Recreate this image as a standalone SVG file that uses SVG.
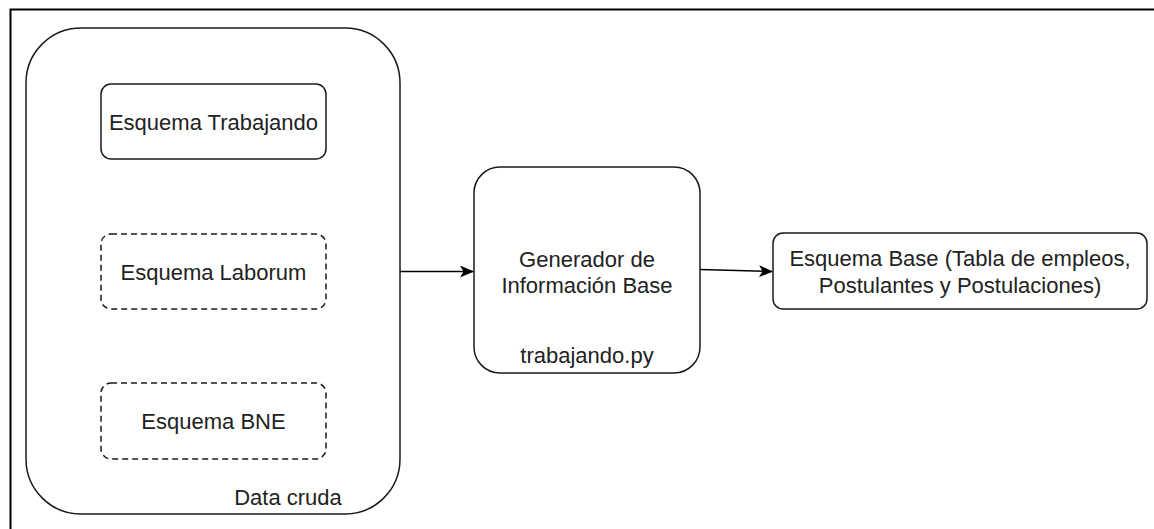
<svg xmlns="http://www.w3.org/2000/svg" width="1154" height="529" viewBox="0 0 1154 529">
<defs>
<style>
.box{fill:#fff;stroke:#1a1a1a;stroke-width:1.5}
.dash{stroke-dasharray:6 4}
.t{font-family:"Liberation Sans",Arial,sans-serif;font-size:22px;fill:#222;text-anchor:middle}
.edge{fill:none;stroke:#000;stroke-width:1.5}
</style>
<marker id="arr" viewBox="0 0 14 12" refX="13" refY="6" markerWidth="14" markerHeight="12" markerUnits="userSpaceOnUse" orient="auto">
<path d="M0,0 L14,6 L0,12 L3.5,6 Z" fill="#000"/>
</marker>
</defs>
<rect width="1154" height="529" fill="#fff"/>
<path d="M10.5,529 V9.5 H1154" fill="none" stroke="#000" stroke-width="2"/>
<g id="data-cruda">
<rect class="box" x="26" y="28" width="374" height="486" rx="55" ry="55"/>
<text class="t" x="288" y="505">Data cruda</text>
</g>
<g id="esquema-trabajando">
<rect class="box" x="101" y="84" width="225" height="75" rx="10" ry="10"/>
<text class="t" x="213.5" y="130">Esquema Trabajando</text>
</g>
<g id="esquema-laborum">
<rect class="box dash" x="101" y="234" width="225" height="75" rx="10" ry="10"/>
<text class="t" x="213.5" y="280">Esquema Laborum</text>
</g>
<g id="esquema-bne">
<rect class="box dash" x="101" y="383" width="225" height="76" rx="10" ry="10"/>
<text class="t" x="213.5" y="429">Esquema BNE</text>
</g>
<g id="generador">
<rect class="box" x="474" y="167" width="226" height="206" rx="26" ry="26"/>
<text class="t" x="587" y="267">Generador de</text>
<text class="t" x="587" y="293">Información Base</text>
<text class="t" x="587" y="363">trabajando.py</text>
</g>
<g id="esquema-base">
<rect class="box" x="773" y="233" width="374" height="76" rx="10" ry="10"/>
<text class="t" x="960" y="266">Esquema Base (Tabla de empleos,</text>
<text class="t" x="960" y="293">Postulantes y Postulaciones)</text>
</g>
<g id="connectors">
<path class="edge" d="M400,271.5 H473" marker-end="url(#arr)"/>
<path class="edge" d="M700,269.5 L772,271.5" marker-end="url(#arr)"/>
</g>
</svg>
